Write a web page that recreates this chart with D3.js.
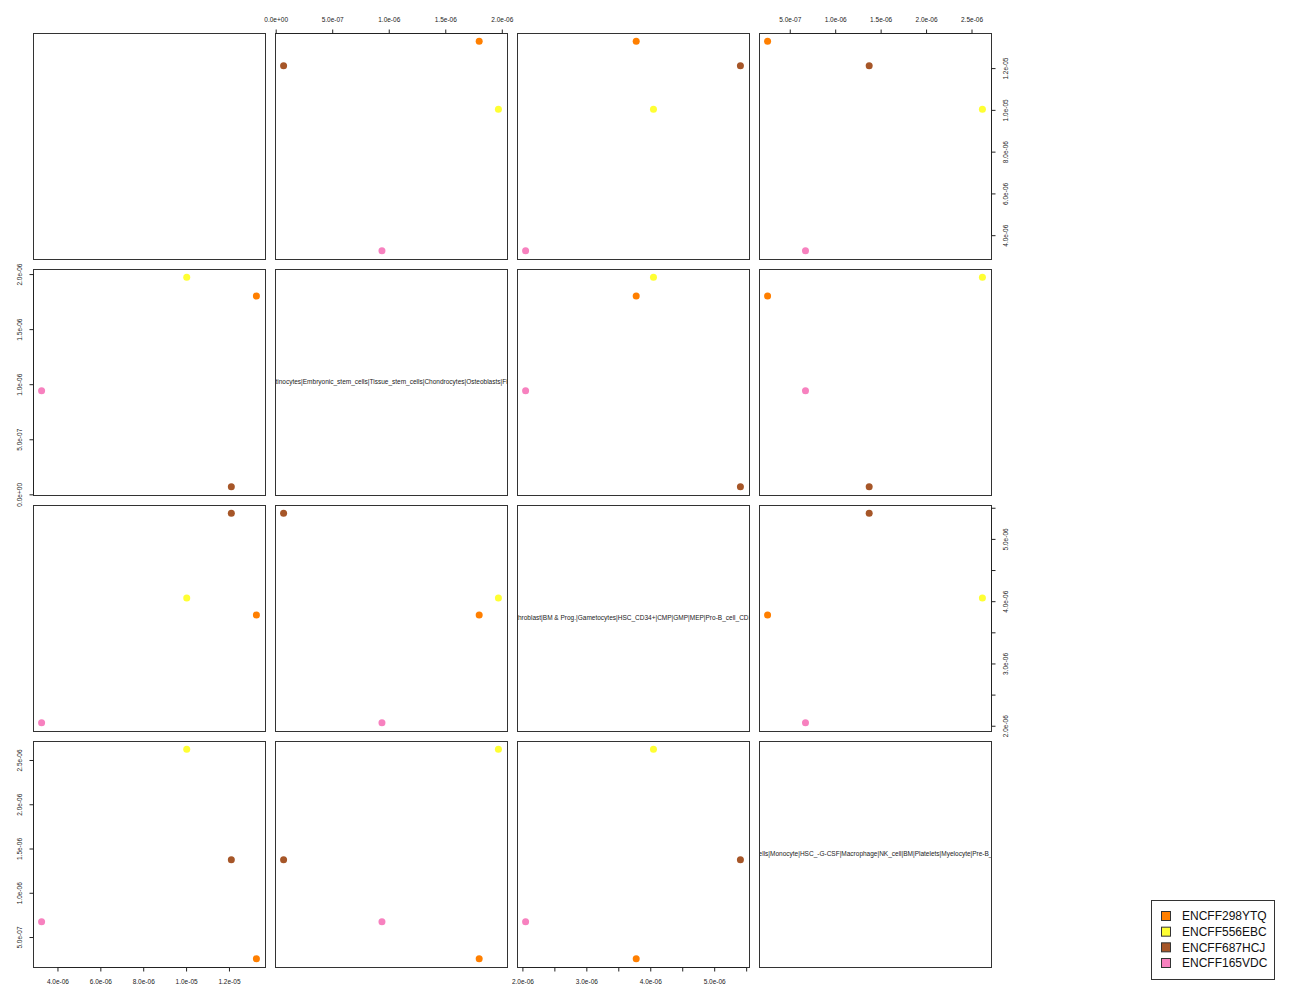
<!DOCTYPE html>
<html><head><meta charset="utf-8">
<script src="https://cdn.jsdelivr.net/npm/d3@7"></script>
<style>body{margin:0;background:#fff}</style>
</head><body><svg id="c" width="1300" height="1000"></svg>
<script>
// ---- data ----
const samples = ["ENCFF298YTQ", "ENCFF556EBC", "ENCFF687HCJ", "ENCFF165VDC"];
const sampleColors = ["#FF7F00", "#FFFF33", "#A65628", "#F781BF"];
const varNames = [
  "",
  "Keratinocytes|Embryonic_stem_cells|Tissue_stem_cells|Chondrocytes|Osteoblasts|Fibres",
  "Erythroblast|BM & Prog.|Gametocytes|HSC_CD34+|CMP|GMP|MEP|Pro-B_cell_CD34+",
  "T_cells|Monocyte|HSC_-G-CSF|Macrophage|NK_cell|BM|Platelets|Myelocyte|Pre-B_cell"
];
const var1 = [13.28e-6, 10.03e-6, 12.11e-6, 3.26e-6];
const var2 = [1.80e-6, 1.97e-6, 0.07e-6, 0.94e-6];
const var3 = [3.78e-6, 4.05e-6, 5.41e-6, 2.05e-6];
const var4 = [0.256e-6, 2.62e-6, 1.374e-6, 0.673e-6];

const ticks1 = [4e-6, 6e-6, 8e-6, 1e-5, 1.2e-5];
const tickLabels1 = ["4.0e-06", "6.0e-06", "8.0e-06", "1.0e-05", "1.2e-05"];
const ticks2 = [0, 5e-7, 1e-6, 1.5e-6, 2e-6];
const tickLabels2 = ["0.0e+00", "5.0e-07", "1.0e-06", "1.5e-06", "2.0e-06"];
const ticks3 = [2e-6, 2.5e-6, 3e-6, 3.5e-6, 4e-6, 4.5e-6, 5e-6, 5.5e-6];
const tickLabels3 = ["2.0e-06", "", "3.0e-06", "", "4.0e-06", "", "5.0e-06", ""];
const ticks4 = [5e-7, 1e-6, 1.5e-6, 2e-6, 2.5e-6];
const tickLabels4 = ["5.0e-07", "1.0e-06", "1.5e-06", "2.0e-06", "2.5e-06"];

const vars = [var1, var2, var3, var4];
const allTicks = [ticks1, ticks2, ticks3, ticks4];
const allTickLabels = [tickLabels1, tickLabels2, tickLabels3, tickLabels4];

// ---- layout ----
const svg = d3.select("#c");
const FONT = "'Liberation Sans', Arial, Helvetica, sans-serif";
const n = 4, left0 = 33, top0 = 33, pw = 232, ph = 226, gap = 10;
const px = j => left0 + j * (pw + gap);
const py = i => top0 + i * (ph + gap);
function ext(v) { const mn = d3.min(v), mx = d3.max(v), r = mx - mn; return [mn - 0.04 * r, mx + 0.04 * r]; }
const xs = vars.map((v, j) => d3.scaleLinear().domain(ext(v)).range([px(j), px(j) + pw]));
const ys = vars.map((v, i) => d3.scaleLinear().domain(ext(v)).range([py(i) + ph, py(i)]));

const defs = svg.append("defs");

for (let i = 0; i < n; i++) {
  for (let j = 0; j < n; j++) {
    const g = svg.append("g");
    if (i === j) {
      defs.append("clipPath").attr("id", "clip" + i)
        .append("rect").attr("x", px(j)).attr("y", py(i)).attr("width", pw).attr("height", ph);
      g.append("text")
        .attr("clip-path", "url(#clip" + i + ")")
        .attr("x", px(j) + pw / 2).attr("y", py(i) + ph / 2)
        .attr("dy", "0.35em").attr("text-anchor", "middle")
        .attr("font-family", FONT).attr("font-size", 6.5).attr("fill", "#222")
        .text(varNames[i]);
    } else {
      g.selectAll("circle").data(samples).join("circle")
        .attr("cx", (d, k) => xs[j](vars[j][k]))
        .attr("cy", (d, k) => ys[i](vars[i][k]))
        .attr("r", 3.5)
        .attr("fill", (d, k) => sampleColors[k]);
    }
    g.append("rect")
      .attr("x", px(j) + 0.5).attr("y", py(i) + 0.5)
      .attr("width", pw).attr("height", ph)
      .attr("fill", "none").attr("stroke", "#333").attr("stroke-width", 1);
  }
}

// ---- axes ----
function drawAxis(kind, scale, k) {
  const fn = { top: d3.axisTop, bottom: d3.axisBottom, left: d3.axisLeft, right: d3.axisRight }[kind];
  const ax = fn(scale).tickValues(allTicks[k]).tickFormat((d, i) => allTickLabels[k][i])
    .tickSize(4).tickPadding(7.5);
  let tr;
  if (kind === "top") tr = `translate(0,${py(0) + 0.5})`;
  else if (kind === "bottom") tr = `translate(0,${py(n - 1) + ph + 0.5})`;
  else if (kind === "left") tr = `translate(${px(0) + 0.5},0)`;
  else tr = `translate(${px(n - 1) + pw + 0.5},0)`;
  const g = svg.append("g").attr("transform", tr).call(ax);
  g.attr("font-size", null).attr("font-family", null);
  g.select(".domain").remove();
  const t = allTicks[k];
  const a = scale(t[0]), b = scale(t[t.length - 1]);
  if (kind === "top" || kind === "bottom") {
    g.append("line").attr("x1", a).attr("x2", b).attr("y1", 0).attr("y2", 0).attr("stroke", "#222");
  } else {
    g.append("line").attr("y1", a).attr("y2", b).attr("x1", 0).attr("x2", 0).attr("stroke", "#222");
  }
  g.selectAll(".tick line").attr("stroke", "#222");
  const txt = g.selectAll(".tick text")
    .attr("font-family", FONT).attr("font-size", 6.5).attr("fill", "#222");
  if (kind === "left" || kind === "right") {
    txt.attr("x", 0).attr("y", 0).attr("dy", "0.35em").attr("text-anchor", "middle")
      .attr("transform", `translate(${kind === "left" ? -14 : 14},0) rotate(-90)`);
  }
}
// column axes alternate bottom/top, row axes alternate right/left
for (let j = 0; j < n; j++) drawAxis(j % 2 === 0 ? "bottom" : "top", xs[j], j);
for (let i = 0; i < n; i++) drawAxis(i % 2 === 0 ? "right" : "left", ys[i], i);

// ---- legend ----
const lg = svg.append("g");
lg.append("rect").attr("x", 1151.5).attr("y", 900.5).attr("width", 123).attr("height", 79)
  .attr("fill", "#fff").attr("stroke", "#333");
const rowY = d3.scalePoint().domain(samples).range([916, 963]);
samples.forEach((s, k) => {
  lg.append("rect").attr("x", 1161.5).attr("y", rowY(s) - 4.5).attr("width", 9).attr("height", 9)
    .attr("fill", sampleColors[k]).attr("stroke", "#333");
  lg.append("text").attr("x", 1182).attr("y", rowY(s)).attr("dy", "0.35em")
    .attr("font-family", FONT).attr("font-size", 12).attr("fill", "#111").text(s);
});
</script>
</body></html>
